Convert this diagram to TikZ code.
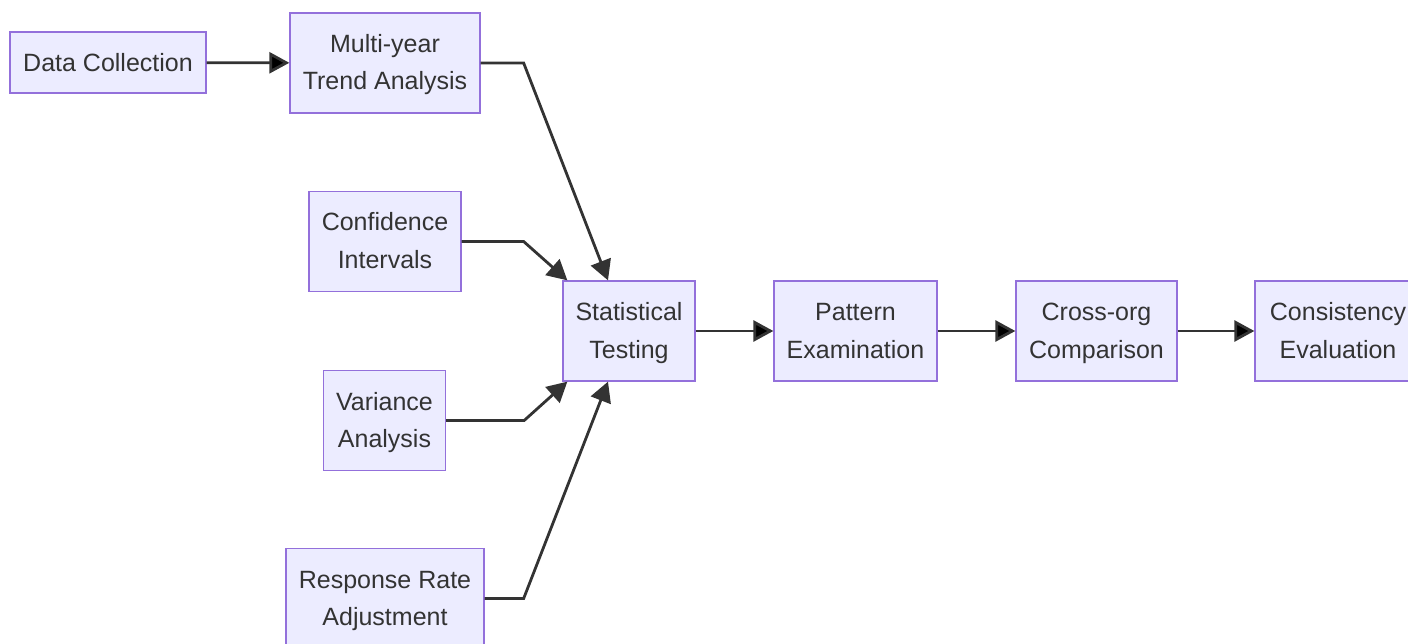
\documentclass[tikz,border=0pt]{standalone}
\usepackage{fontspec}
\setmainfont{Liberation Sans}
\usetikzlibrary{arrows.meta}
\definecolor{boxfill}{HTML}{ECECFF}
\definecolor{boxline}{HTML}{9370DB}
\definecolor{edgecol}{HTML}{333333}
\begin{document}
\begin{tikzpicture}[x=1pt, y=-1pt]
	\tikzset{stage/.style={draw=boxline, fill=boxfill, line width=1.3pt, inner sep=0pt, align=center, text=edgecol, font=\fontsize{25}{37.5}\selectfont, text height=18pt, text depth=0pt}}
	\tikzset{twoline/.style={text height=55pt, text depth=1pt, minimum height=100pt}}
	\tikzset{ar/.style={-{Triangle[length=20pt, width=21pt]}, draw=edgecol, line width=2.8pt}}
	\useasboundingbox (0,0) rectangle (1408,644);
	\node[stage, minimum width=196pt, minimum height=61pt] at (108, 62.5) (dc) {Data Collection};
	\node[stage, twoline, minimum width=190pt] at (385, 63) (mt) {Multi-year\\Trend Analysis};
	\node[stage, twoline, minimum width=152pt] at (385, 241.5) (ci) {Confidence\\Intervals};
	\node[stage, twoline, minimum width=122pt] at (384.5, 420.5) (va) {Variance\\Analysis};
	\node[stage, twoline, minimum width=198pt] at (385, 598.5) (rr) {Response Rate\\Adjustment};
	\node[stage, twoline, minimum width=132pt] at (629, 331) (st) {Statistical\\Testing};
	\node[stage, twoline, minimum width=163pt] at (855.5, 331) (pe) {Pattern\\Examination};
	\node[stage, twoline, minimum width=161pt] at (1096.5, 331) (co) {Cross-org\\Comparison};
	\node[stage, twoline, minimum width=166pt] at (1338, 331) (ce) {Consistency\\Evaluation};
	\path[ar] (dc) edge (mt);
	\draw[ar] (mt.east) -- ++(43,0) -- ([xshift=-21pt]st.north);
	\draw[ar] (ci.east) -- ++(62,0) -- ([xshift=5pt]st.north west);
	\draw[ar] (va.east) -- ++(78,0) -- ([xshift=5pt]st.south west);
	\draw[ar] (rr.east) -- ++(39,0) -- ([xshift=-21pt]st.south);
	\path[ar] (st) edge (pe);
	\path[ar] (pe) edge (co);
	\path[ar] (co) edge (ce);
\end{tikzpicture}
\end{document}
